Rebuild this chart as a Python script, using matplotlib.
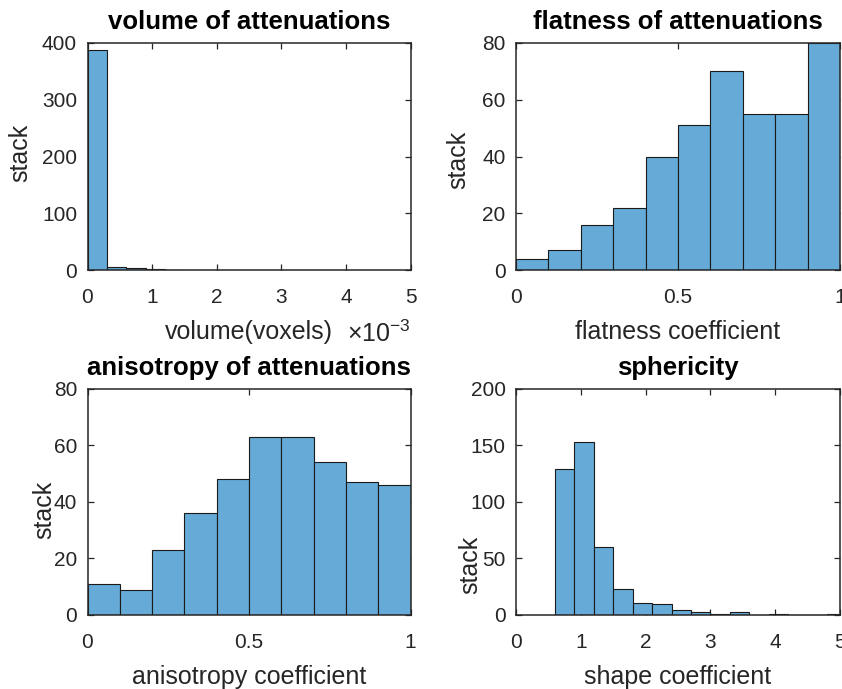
import numpy as np
import matplotlib
matplotlib.use("Agg")
import matplotlib.pyplot as plt

plt.rcParams['font.family'] = ['Liberation Sans', 'DejaVu Sans']
plt.rcParams['mathtext.fontset'] = 'custom'
plt.rcParams['mathtext.rm'] = 'Liberation Sans'

# ---- data ----
vol_edges = [0.0, 0.3, 0.6, 0.9, 1.2, 1.5]          # x 10^-3 voxels
vol_counts = [388, 6, 4, 1, 0]

flat_edges = [0.0, 0.1, 0.2, 0.3, 0.4, 0.5, 0.6, 0.7, 0.8, 0.9, 1.0]
flat_counts = [4, 7, 16, 22, 40, 51, 70, 55, 55, 80]

aniso_edges = [0.0, 0.1, 0.2, 0.3, 0.4, 0.5, 0.6, 0.7, 0.8, 0.9, 1.0]
aniso_counts = [11, 9, 23, 36, 48, 63, 63, 54, 47, 46]

sph_edges = [0.6, 0.9, 1.2, 1.5, 1.8, 2.1, 2.4, 2.7, 3.0, 3.3, 3.6, 3.9, 4.2, 4.5, 4.8, 5.1]
sph_counts = [129, 153, 60, 23, 11, 10, 4, 3, 1, 3, 0, 1, 0, 0, 1]

titles = ["volume of attenuations", "flatness of attenuations",
          "anisotropy of attenuations", "sphericity"]
xlabels = ["volume(voxels)", "flatness coefficient",
           "anisotropy coefficient", "shape coefficient"]
ylabel = "stack"

face = "#66AAD7"
axcol = "#262626"

W, H = 842, 689
fig = plt.figure(figsize=(W / 100, H / 100), dpi=100)

def rect(x0, y0, x1, y1):
    return [x0 / W, 1 - y1 / H, (x1 - x0) / W, (y1 - y0) / H]

boxes = [(87.5, 43, 410.5, 270), (516, 43, 840, 270),
         (87.5, 388.5, 410.5, 615), (516, 388.5, 840, 615)]
ylab_px = [(20, 153), (458, 160), (44, 510), (470, 565)]

panels = [
    (vol_edges, vol_counts, (0, 5), [0, 1, 2, 3, 4, 5], ["0", "1", "2", "3", "4", "5"], (0, 400), [0, 100, 200, 300, 400]),
    (flat_edges, flat_counts, (0, 1), [0, 0.5, 1], ["0", "0.5", "1"], (0, 80), [0, 20, 40, 60, 80]),
    (aniso_edges, aniso_counts, (0, 1), [0, 0.5, 1], ["0", "0.5", "1"], (0, 80), [0, 20, 40, 60, 80]),
    (sph_edges, sph_counts, (0, 5), [0, 1, 2, 3, 4, 5], ["0", "1", "2", "3", "4", "5"], (0, 200), [0, 50, 100, 150, 200]),
]

for i, (edges, counts, xl, xt, xtl, yl, yt) in enumerate(panels):
    b = boxes[i]
    ax = fig.add_axes(rect(*b))
    e = np.asarray(edges, dtype=float)
    ax.bar(e[:-1], counts, width=np.diff(e), align='edge', color=face,
           edgecolor='#1a1a1a', linewidth=0.8, zorder=2)
    ax.set_xlim(*xl)
    ax.set_ylim(*yl)
    ax.set_xticks(xt)
    ax.set_xticklabels(xtl)
    ax.set_yticks(yt)
    for s in ax.spines.values():
        s.set_color(axcol)
        s.set_linewidth(1.1)
        s.set_zorder(5)
    ax.tick_params(direction='in', length=4, width=0.9, colors=axcol,
                   labelsize=15, top=True, right=True)
    ax.tick_params(axis='x', pad=13)
    ax.tick_params(axis='y', pad=7.5)
    ax.set_title(titles[i], fontsize=18.5, fontweight='bold', color='black', pad=10)
    ax.set_xlabel(xlabels[i], fontsize=18, color=axcol, labelpad=9)
    ax.set_ylabel(ylabel, fontsize=18, color=axcol)
    ax.yaxis.label.set_verticalalignment('center')
    lx, ly = ylab_px[i]
    ax.yaxis.set_label_coords((lx - b[0]) / (b[2] - b[0]), (b[3] - ly) / (b[3] - b[1]))
    if i == 0:
        ax.text(1.0, -(341.7 - b[3]) / (b[3] - b[1]), r"$\times\mathregular{10^{-3}}$",
                transform=ax.transAxes, ha='right', va='baseline',
                fontsize=18, color=axcol)

fig.savefig("out.png", dpi=100)
